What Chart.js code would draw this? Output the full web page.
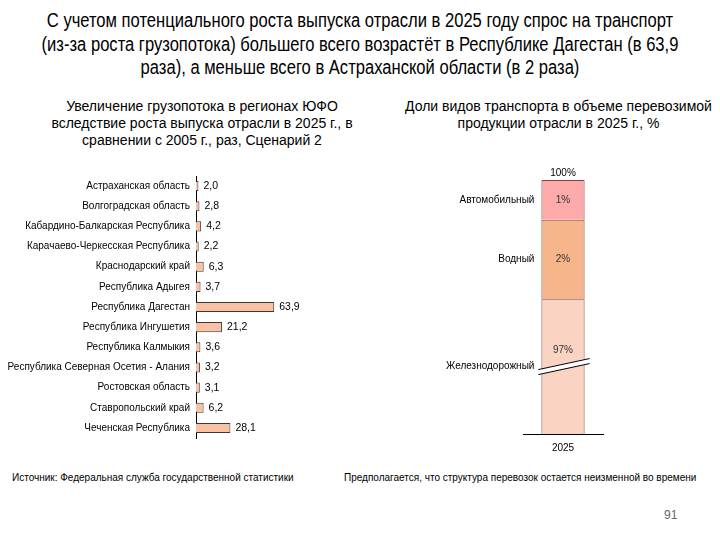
<!DOCTYPE html>
<html>
<head>
<meta charset="utf-8">
<script src="https://cdn.jsdelivr.net/npm/chart.js@4"></script>
<style>
  body { margin: 0; width: 720px; height: 540px; position: relative; background: #fff; overflow: hidden;
         font-family: "Liberation Sans", Arial, sans-serif; color: #000; }
  .abs { position: absolute; }
  #title { left: -60px; top: 9px; width: 840px; text-align: center; white-space: nowrap;
           font-size: 19.5px; line-height: 23.5px; transform: scaleX(0.85); transform-origin: 50% 0; }
  .sub { font-size: 14px; line-height: 17px; text-align: center; white-space: nowrap; }
  .note { font-size: 10px; top: 472px; }
</style>
</head>
<body>
<div id="title" class="abs">С учетом потенциального роста выпуска отрасли в 2025 году спрос на транспорт<br>(из-за роста грузопотока) большего всего возрастёт в Республике Дагестан (в 63,9<br>раза), а меньше всего в Астраханской области (в 2 раза)</div>
<div class="abs sub" style="left:40px;top:98px;width:324px;">Увеличение грузопотока в регионах ЮФО<br>вследствие роста выпуска отрасли в 2025 г., в<br>сравнении с 2005 г., раз, Сценарий 2</div>
<div class="abs sub" style="left:400px;top:98px;width:317px;">Доли видов транспорта в объеме перевозимой<br>продукции отрасли в 2025 г., %</div>

<div class="abs" style="left:0;top:164px;width:360px;height:286px;"><canvas id="growthChart"></canvas></div>
<div class="abs" style="left:390px;top:160px;width:330px;height:300px;"><canvas id="shareChart"></canvas></div>

<div class="abs note" style="left:12px;">Источник: Федеральная служба государственной статистики</div>
<div class="abs note" style="left:344px;">Предполагается, что структура перевозок остается неизменной во времени</div>
<div class="abs" style="left:664px;top:508px;font-size:12px;color:#666;">91</div>

<script>
// Data
const regions = [
  "Астраханская область", "Волгоградская область", "Кабардино-Балкарская Республика",
  "Карачаево-Черкесская Республика", "Краснодарский край", "Республика Адыгея",
  "Республика Дагестан", "Республика Ингушетия", "Республика Калмыкия",
  "Республика Северная Осетия - Алания", "Ростовская область", "Ставропольский край",
  "Чеченская Республика"
];
const growth = [2.0, 2.8, 4.2, 2.2, 6.3, 3.7, 63.9, 21.2, 3.6, 3.2, 3.1, 6.2, 28.1];

const years = ["2025"];
const modes = ["Железнодорожный", "Водный", "Автомобильный"];
const shares = [97, 2, 1];
const modeColors = ["#FBD3C3", "#F7B58B", "#FDAAAA"];

Chart.defaults.font.family = '"Liberation Sans", Arial, sans-serif';
Chart.defaults.color = "#000";

// Left chart: value labels right of the bars
const barValues = {
  id: "barValues",
  afterDatasetsDraw(chart) {
    const ctx = chart.ctx;
    const meta = chart.getDatasetMeta(0);
    ctx.save();
    ctx.font = '10.5px "Liberation Sans", Arial, sans-serif';
    ctx.fillStyle = "#000";
    ctx.textBaseline = "middle";
    meta.data.forEach((bar, i) => {
      ctx.fillText(growth[i].toFixed(1).replace(".", ","), bar.x + 5, bar.y);
    });
    ctx.restore();
  }
};

new Chart(document.getElementById("growthChart"), {
  type: "bar",
  data: {
    labels: regions,
    datasets: [{
      data: growth,
      backgroundColor: "#F9C2A4",
      borderColor: "#3a3a3a",
      borderWidth: 1,
      barPercentage: 0.5,
      categoryPercentage: 1
    }]
  },
  options: {
    indexAxis: "y",
    responsive: true,
    maintainAspectRatio: false,
    animation: false,
    layout: { padding: { top: 5, bottom: 5, right: 0 } },
    plugins: { legend: { display: false }, tooltip: { enabled: false } },
    scales: {
      x: { display: false, min: 0, max: 134 },
      y: {
        grid: { display: false, drawTicks: false },
        border: { display: true, color: "#000", width: 1 },
        ticks: { font: { size: 10 }, color: "#000", padding: 6 },
        afterFit(scale) { scale.width = 196; }
      }
    }
  },
  plugins: [barValues]
});

// Right chart: broken value axis, the small shares above the break are stretched
class BrokenScale extends Chart.LinearScale {
  getPixelForValue(v) {
    const b = this.options.breakAt, f = this.options.breakFrac;
    const d = v <= b ? v / b * f : f + (v - b) / (this.max - b) * (1 - f);
    return this.getPixelForDecimal(d);
  }
  getValueForPixel(p) {
    const b = this.options.breakAt, f = this.options.breakFrac;
    const d = this.getDecimalForPixel(p);
    return d <= f ? d / f * b : b + (d - f) / (1 - f) * (this.max - b);
  }
}
BrokenScale.id = "broken";
BrokenScale.defaults = Chart.LinearScale.defaults;
Chart.register(BrokenScale);

const shareLabels = {
  id: "shareLabels",
  afterDatasetsDraw(chart) {
    const ctx = chart.ctx;
    ctx.save();
    ctx.textBaseline = "middle";
    let top = null, left = 0, right = 0, railMid = 0;
    chart.data.datasets.forEach((ds, i) => {
      const bar = chart.getDatasetMeta(i).data[0];
      const mid = (bar.y + bar.base) / 2;
      left = bar.x - bar.width / 2;
      right = bar.x + bar.width / 2;
      top = bar.y;
      ctx.font = '10px "Liberation Sans", Arial, sans-serif';
      ctx.fillStyle = "#000";
      ctx.textAlign = "right";
      ctx.fillText(ds.label, left - 7, mid);
      ctx.textAlign = "center";
      ctx.fillStyle = "#333";
      ctx.fillText(ds.data[0] + "%", bar.x, i === 0 ? mid - 16 : mid);
      if (i === 0) railMid = mid;
    });
    const total = shares.reduce((a, b) => a + b, 0);
    ctx.fillStyle = "#000";
    ctx.fillText(total + "%", chart.getDatasetMeta(0).data[0].x, top - 7);

    // break mark
    const x1 = left - 3, x2 = right + 5, y = railMid;
    ctx.beginPath();
    ctx.moveTo(x1, y + 3); ctx.lineTo(x2, y - 8); ctx.lineTo(x2, y - 3); ctx.lineTo(x1, y + 8);
    ctx.closePath();
    ctx.fillStyle = "#fff";
    ctx.fill();
    ctx.strokeStyle = "#000";
    ctx.lineWidth = 1;
    ctx.beginPath();
    ctx.moveTo(x1, y + 3); ctx.lineTo(x2, y - 8);
    ctx.moveTo(x1, y + 8); ctx.lineTo(x2, y - 3);
    ctx.stroke();
    ctx.restore();
  }
};

new Chart(document.getElementById("shareChart"), {
  type: "bar",
  data: {
    labels: years,
    datasets: modes.map((m, i) => ({
      label: m,
      data: [shares[i]],
      backgroundColor: modeColors[i],
      borderColor: "#7a4a3a",
      borderWidth: 1,
      barPercentage: 0.54,
      categoryPercentage: 1
    }))
  },
  options: {
    responsive: true,
    maintainAspectRatio: false,
    animation: false,
    layout: { padding: { left: 133, right: 117, top: 20, bottom: 6 } },
    plugins: { legend: { display: false }, tooltip: { enabled: false } },
    scales: {
      x: {
        stacked: true,
        grid: { display: false },
        border: { display: true, color: "#000", width: 1 },
        ticks: { font: { size: 10 }, color: "#000", padding: 0 }
      },
      y: {
        type: "broken",
        stacked: true,
        display: false,
        min: 0,
        max: 100,
        breakAt: shares[0],
        breakFrac: 0.531
      }
    }
  },
  plugins: [shareLabels]
});
</script>
</body>
</html>
